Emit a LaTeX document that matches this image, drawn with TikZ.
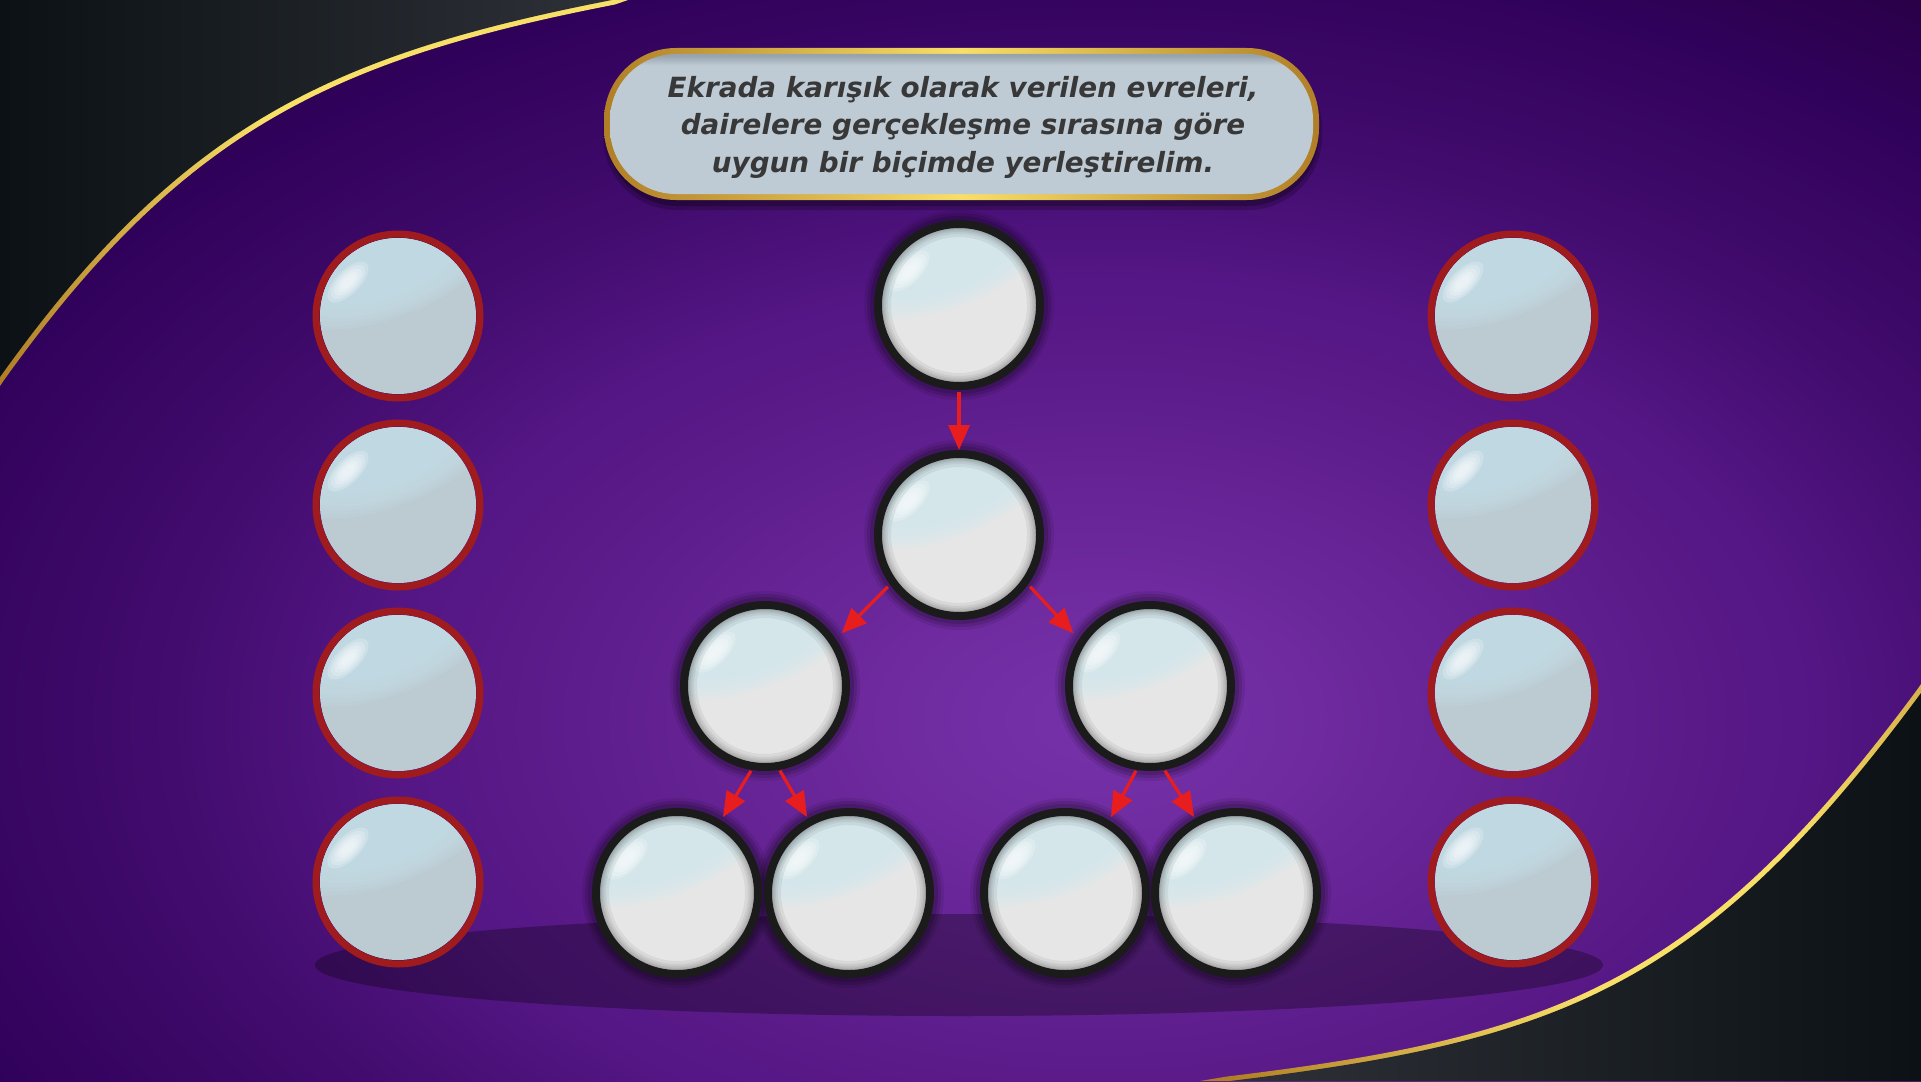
\documentclass[tikz,border=0pt]{standalone}
\usepackage{fontspec}
\setmainfont{DejaVu Sans}
\usetikzlibrary{arrows.meta,calc}

\definecolor{bg0}{HTML}{7632AA}
\definecolor{bg1}{HTML}{6E2A9E}
\definecolor{bg2}{HTML}{5A1A88}
\definecolor{bg3}{HTML}{551786}
\definecolor{bg4}{HTML}{420C6E}
\definecolor{bg5}{HTML}{30015A}
\definecolor{bg6}{HTML}{2A0048}
\definecolor{darkL}{HTML}{0B1114}
\definecolor{darkR}{HTML}{2E3138}
\definecolor{goldD}{HTML}{B07E26}
\definecolor{goldB}{HTML}{F8DF68}
\definecolor{goldM}{HTML}{D8B24A}
\definecolor{ringB}{HTML}{1B1B1B}
\definecolor{ringR}{HTML}{A01B1D}
\definecolor{glassW}{HTML}{E6E6E6}
\definecolor{tintB}{HTML}{D2E7EE}
\definecolor{baseR}{HTML}{BCCAD2}
\definecolor{tintR}{HTML}{C4DEE7}
\definecolor{arrowred}{HTML}{E81D1D}
\definecolor{boxfill}{HTML}{BECBD4}
\definecolor{boxtop}{HTML}{98A4AD}
\definecolor{titletext}{HTML}{383838}

% shadings: the central 25bp..75bp range is fitted to the path's bounding box
\pgfdeclareradialshading{bgrad}{\pgfpoint{0bp}{0bp}}{color(0bp)=(bg0); color(3.4bp)=(bg1); color(9.3bp)=(bg2); color(10.9bp)=(bg3); color(14.5bp)=(bg4); color(19.4bp)=(bg5); color(22.1bp)=(bg6); color(50bp)=(bg6)}
\pgfdeclarehorizontalshading{goldTL}{100bp}{color(0bp)=(goldD); color(25bp)=(goldD); color(46bp)=(goldB); color(100bp)=(goldB)}
\pgfdeclarehorizontalshading{goldBR}{100bp}{color(0bp)=(goldD); color(27bp)=(goldD); color(52bp)=(goldB); color(66bp)=(goldB); color(75bp)=(goldM); color(100bp)=(goldM)}
\pgfdeclarehorizontalshading{goldbox}{100bp}{color(0bp)=(goldD); color(25bp)=(goldD); color(50bp)=(goldB); color(75bp)=(goldD); color(100bp)=(goldD)}
\pgfdeclarehorizontalshading{darkTL}{100bp}{color(0bp)=(darkL); color(25bp)=(darkL); color(75bp)=(darkR); color(100bp)=(darkR)}
\pgfdeclarehorizontalshading{darkBR}{100bp}{color(0bp)=(darkR); color(25bp)=(darkR); color(75bp)=(darkL); color(100bp)=(darkL)}
\pgfdeclareverticalshading{boxshade}{100bp}{color(0bp)=(boxfill); color(71bp)=(boxfill); color(74.5bp)=(boxtop); color(100bp)=(boxtop)}

% glass body at (#1,#2), tint colour #3, base colour #4, rim (1/0) #5
\newcommand\glassAt[5]{%
 \begin{scope}[shift={(#1,#2)}]
  \begin{scope}
   \clip (0pt,0pt) circle[radius=39pt];
   \fill[#4] (0pt,0pt) circle[radius=40pt];
   \begin{scope}[shift={(-6pt,27pt)}, rotate=21]
    \foreach \s in {1,0.94,0.88,0.82,0.76,0.7,0.64}{
      \fill[#3, opacity=0.22] (0pt,0pt) ellipse[x radius=\s*60pt, y radius=\s*28pt];}
   \end{scope}
   \begin{scope}[shift={(-25pt,17pt)}, rotate=45]
    \foreach \s in {1.2,1,0.8,0.6,0.4}{
      \fill[white, opacity=0.22] (0pt,0pt) ellipse[x radius=\s*11pt, y radius=\s*5pt];}
   \end{scope}
   \ifnum#5=1
    \foreach \r in {34,35.5,36.5,37.3,38}{
      \fill[black, opacity=0.06, even odd rule] (0pt,0pt) circle[radius=40pt] (0pt,0pt) circle[radius=\r pt];}
   \fi
  \end{scope}
 \end{scope}}

\tikzset{
  blackglass/.style={circle, draw=ringB, line width=4pt, minimum size=81pt, inner sep=0pt},
  redglass/.style={circle, draw=ringR, line width=3.5pt, minimum size=82pt, inner sep=0pt},
  arr/.style={draw=arrowred, line width=1.6pt, -{Triangle[length=12.5pt,width=10.5pt]}},
  titlestyle/.style={align=center, text=titletext, inner sep=0pt, font=\fontsize{13.9}{18.75}\selectfont\bfseries\itshape},
}

\begin{document}
\begin{tikzpicture}[x=0.5pt,y=-0.5pt]
\useasboundingbox (0,0) rectangle (1921,1081);
\clip (0,0) rectangle (1921,1081);
% background
\shade[shading=bgrad] (1100,720) ellipse[x radius=800pt, y radius=500pt];
% top-left dark corner with gold edge
\shade[shading=goldTL] (0,0) -- (628,0) -- (615,4.5) .. controls (333,59.5) and (183,129.5) .. (3,381.5) -- (0,386) -- cycle;
\shade[shading=darkTL] (0,0) -- (612,0) .. controls (330,55) and (180,125) .. (0,377) -- cycle;
% bottom-right dark corner with gold edge
\shade[shading=goldBR] (1921,1081) -- (1921,684) -- (1918,688.5) .. controls (1699,984.5) and (1557,1036.5) .. (1227,1076.5) -- (1200,1081) -- cycle;
\shade[shading=darkBR] (1921,1081) -- (1921,693) .. controls (1702,989) and (1560,1041) .. (1230,1081) -- cycle;
% floor shadow
\fill[black, opacity=0.3] (959,965) ellipse[x radius=322pt, y radius=25.5pt];
% soft shadow behind black circles
\foreach \x/\y in {959/305,959/535,765/686,1150/686,677/893,849/893,1065/893,1236/893}{
  \foreach \r/\o in {47.5/0.08,46/0.12,44.5/0.14}{
    \fill[black, opacity=\o] (\x,\y) circle[radius=\r pt];}}
% glass bodies
\foreach \x/\y in {959/305,959/535,765/686,1150/686,677/893,849/893,1065/893,1236/893}{
  \glassAt{\x}{\y}{tintB}{glassW}{1}}
\foreach \x/\y in {398/316,398/505,398/693,398/882,1513/316,1513/505,1513/693,1513/882}{
  \glassAt{\x}{\y}{tintR}{baseR}{0}}
% black-ringed circles
\node[blackglass] (c0) at (959,305) {};
\node[blackglass] (c1) at (959,535) {};
\node[blackglass] (l)  at (765,686) {};
\node[blackglass] (r)  at (1150,686) {};
\node[blackglass] (b1) at (677,893) {};
\node[blackglass] (b2) at (849,893) {};
\node[blackglass] (b3) at (1065,893) {};
\node[blackglass] (b4) at (1236,893) {};
% red-ringed circles
\node[redglass] (L1) at (398,316) {};
\node[redglass] (L2) at (398,505) {};
\node[redglass] (L3) at (398,693) {};
\node[redglass] (L4) at (398,882) {};
\node[redglass] (R1) at (1513,316) {};
\node[redglass] (R2) at (1513,505) {};
\node[redglass] (R3) at (1513,693) {};
\node[redglass] (R4) at (1513,882) {};
% arrows
\draw[arr] ($(c0)+(-90:43.5pt)$) -- ($(c1)+(90:42.5pt)$);
\draw[arr] ($(c1)+(216:44pt)$) -- ($(l)+(34.5:46.5pt)$);
\draw[arr] ($(c1)+(324:44pt)$) -- ($(r)+(145.5:46.5pt)$);
\draw[arr] ($(l)+(260.6:43pt)$) -- ($(b1)+(58.8:44.4pt)$);
\draw[arr] ($(l)+(280:43pt)$) -- ($(b2)+(118.9:43.4pt)$);
\draw[arr] ($(r)+(260.6:43pt)$) -- ($(b3)+(58.8:44.4pt)$);
\draw[arr] ($(r)+(280:43pt)$) -- ($(b4)+(118.9:43.4pt)$);
% title box
\fill[black, opacity=0.2, rounded corners=37pt] (603,54) rectangle (1322,210);
\fill[black, opacity=0.25, rounded corners=36pt] (606,55) rectangle (1319,206);
\shade[shading=goldbox, rounded corners=36pt] (604,48) rectangle (1319,200);
\shade[shading=boxshade, rounded corners=33pt] (610,54) rectangle (1313,194);
\node[titlestyle] (title) at (963,127) {Ekrada karışık olarak verilen evreleri,\\ dairelere gerçekleşme sırasına göre\\ uygun bir biçimde yerleştirelim.};
\end{tikzpicture}
\end{document}
